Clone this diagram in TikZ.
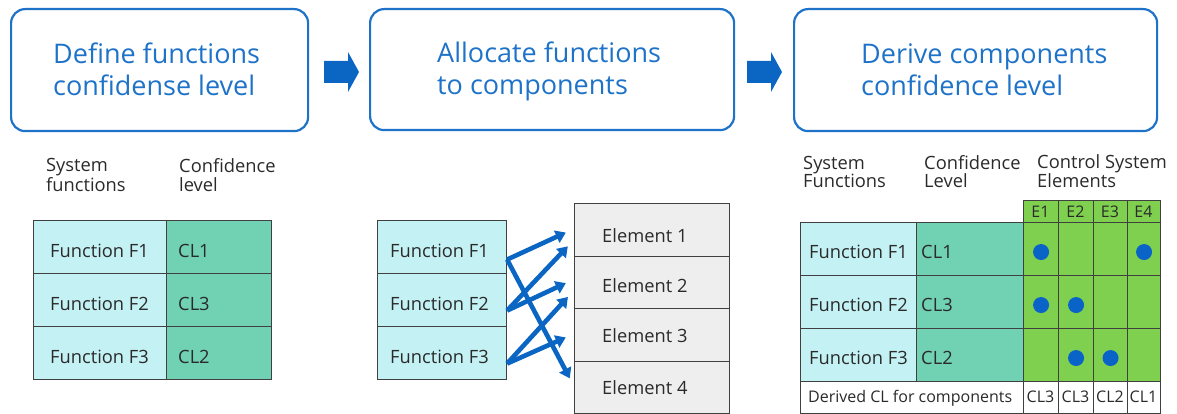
\documentclass[tikz,border=0pt]{standalone}
\usepackage{fontspec}
\setmainfont{Open Sans}
\usetikzlibrary{arrows.meta,calc}
\definecolor{boxblue}{HTML}{1E73C8}
\definecolor{arrowblue}{HTML}{0A66C2}
\definecolor{dotblue}{HTML}{0A64C8}
\definecolor{cyanc}{HTML}{C4F2F4}
\definecolor{tealc}{HTML}{70D2B2}
\definecolor{greenc}{HTML}{80D050}
\definecolor{elemgray}{HTML}{EEEEEE}
\definecolor{linegray}{HTML}{404040}
\definecolor{textdark}{HTML}{2A2A2A}
\begin{document}
\begin{tikzpicture}[x=1pt,y=-1pt,
 stepbox/.style={draw=boxblue, line width=2.2pt, rounded corners=14pt, anchor=north west, inner sep=0},
 title/.style={text=boxblue, font=\fontsize{27}{32}\selectfont, align=left, anchor=base west, inner sep=0},
 cell/.style={draw=linegray, line width=1.1pt, anchor=north west, inner sep=0},
 ctext/.style={text=textdark, font=\fontsize{18.3}{22}\selectfont, anchor=base west, inner sep=0},
 head/.style={text=textdark, font=\fontsize{18.3}{18}\selectfont, align=left, anchor=base west, inner sep=0},
 small/.style={text=textdark, font=\fontsize{16}{18}\selectfont, anchor=base, inner sep=0},
 conn/.style={draw=arrowblue, line width=4.6pt, -{Triangle[length=10pt,width=13pt]}, shorten >=9pt},
 dot/.style={circle, fill=dotblue, minimum size=16pt, inner sep=0},
 blockarrow/.style={fill=arrowblue}
]
\useasboundingbox (0,0) rectangle (1177,414);

% ---- top step boxes
\node[stepbox, minimum width=297pt, minimum height=122pt] (b1) at (10,8) {};
\node[stepbox, minimum width=364pt, minimum height=121pt] (b2) at (369,8) {};
\node[stepbox, minimum width=363pt, minimum height=122pt] (b3) at (793,8) {};
\node[title] (t1) at (53,96) {Define functions\\confidense level};
\node[title] (t2) at (437,95) {Allocate functions\\to components};
\node[title] (t3) at (861,96) {Derive components\\confidence level};
\fill[blockarrow] (324,61) -- (348,61) -- (348,52) -- (359,72) -- (348,92) -- (348,83) -- (324,83) -- cycle;
\fill[blockarrow] (747,61) -- (771,61) -- (771,52) -- (782,72) -- (771,92) -- (771,83) -- (747,83) -- cycle;

% ---- left table
\node[head] (h1) at (46,191) {System\\functions};
\node[head] (h2) at (179,191) {Confidence\\level};
\foreach \i/\y/\c in {1/220/CL1,2/273/CL3,3/326/CL2}{
  \node[cell, fill=cyanc, minimum width=133pt, minimum height=53pt] (lf\i) at (33,\y) {};
  \node[cell, fill=tealc, minimum width=105pt, minimum height=53pt] (lc\i) at (166,\y) {};
  \node[ctext] (lft\i) at (50,\y+37) {Function F\i};
  \node[ctext] (lct\i) at (178,\y+37) {\c};
}

% ---- middle
\foreach \i/\y in {1/220,2/273,3/326}{
  \node[cell, fill=cyanc, minimum width=129pt, minimum height=53pt] (mf\i) at (377,\y) {};
  \node[ctext] (mft\i) at (390,\y+37) {Function F\i};
}
\foreach \i/\y/\b in {1/203/242,2/255.5/292,3/308/342,4/360.5/394}{
  \node[cell, fill=elemgray, minimum width=155pt, minimum height=52.5pt] (el\i) at (574,\y) {};
  \node[ctext] (elt\i) at (602,\b) {Element \i};
}
\draw[conn] ($(mf1.east)+(0,12.5)$) -- ($(el1.west)+(0,-1)$);
\draw[conn] ($(mf1.east)+(0,12.5)$) -- ($(el4.west)+(0,-1)$);
\draw[conn] ($(mf2.east)+(0,10.5)$) -- ($(el1.west)+(0,10)$);
\draw[conn] ($(mf2.east)+(0,10.5)$) -- ($(el2.west)+(0,-3)$);
\draw[conn] ($(mf3.east)+(0,10.5)$) -- ($(el2.west)+(0,8)$);
\draw[conn] ($(mf3.east)+(0,10.5)$) -- ($(el3.west)+(0,-1)$);

% ---- right table
\node[head] (h3) at (803,188) {System\\Functions};
\node[head] (h4) at (924,188) {Confidence\\Level};
\node[head] (h5) at (1037,188) {Control System\\Elements};
\foreach \j/\x/\w in {1/1023/35,2/1058/35,3/1093/34,4/1127/33}{
  \node[cell, fill=greenc, minimum width=\w pt, minimum height=22pt] (eh\j) at (\x,200) {};
  \node[small] (eht\j) at (\x+\w/2,217) {E\j};
}
\foreach \i/\y/\c in {1/222/CL1,2/275/CL3,3/328/CL2}{
  \node[cell, fill=cyanc, minimum width=116pt, minimum height=53pt] (rf\i) at (800,\y) {};
  \node[cell, fill=tealc, minimum width=107pt, minimum height=53pt] (rc\i) at (916,\y) {};
  \node[ctext] (rft\i) at (809,\y+36) {Function F\i};
  \node[ctext] (rct\i) at (921,\y+36) {\c};
  \foreach \j/\x/\w in {1/1023/35,2/1058/35,3/1093/34,4/1127/33}{
    \node[cell, fill=greenc, minimum width=\w pt, minimum height=53pt] (g\i\j) at (\x,\y) {};
  }
}
\node[cell, fill=white, minimum width=223pt, minimum height=32pt] (der) at (800,381) {};
\node[small, anchor=base west] (dert) at (808,402) {Derived CL for components};
\foreach \j/\x/\w/\c in {1/1023/35/CL3,2/1058/35/CL3,3/1093/34/CL2,4/1127/33/CL1}{
  \node[cell, fill=white, minimum width=\w pt, minimum height=32pt] (d\j) at (\x,381) {};
  \node[small] (dt\j) at (\x+\w/2,402) {\c};
}
\foreach \i/\j in {1/1,1/4,2/1,2/2,3/2,3/3}{
  \node[dot] (dot\i\j) at ($(g\i\j.center)+(0,3)$) {};
}
\end{tikzpicture}
\end{document}
